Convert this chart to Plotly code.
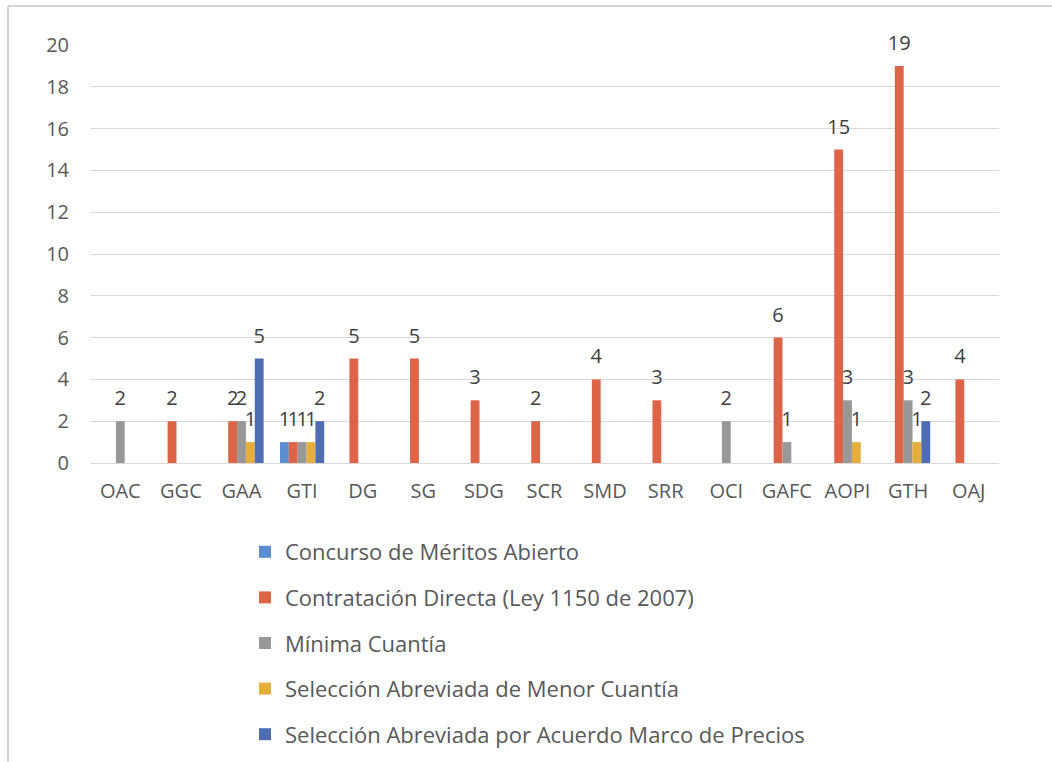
import plotly.graph_objects as go

# Dependencias (categorías del eje X)
categories = ["OAC", "GGC", "GAA", "GTI", "DG", "SG", "SDG", "SCR", "SMD",
              "SRR", "OCI", "GAFC", "AOPI", "GTH", "OAJ"]

# Número de procesos por modalidad de contratación
concurso_meritos = [0, 0, 0, 1, 0, 0, 0, 0, 0, 0, 0, 0, 0, 0, 0]
contratacion_directa = [0, 2, 2, 1, 5, 5, 3, 2, 4, 3, 0, 6, 15, 19, 4]
minima_cuantia = [2, 0, 2, 1, 0, 0, 0, 0, 0, 0, 2, 1, 3, 3, 0]
menor_cuantia = [0, 0, 1, 1, 0, 0, 0, 0, 0, 0, 0, 0, 1, 1, 0]
acuerdo_marco = [0, 0, 5, 2, 0, 0, 0, 0, 0, 0, 0, 0, 0, 2, 0]

y_ticks = [0, 2, 4, 6, 8, 10, 12, 14, 16, 18, 20]

series = [
    ("Concurso de Méritos Abierto", concurso_meritos, "#5B8ED0"),
    ("Contratación Directa (Ley 1150 de 2007)", contratacion_directa, "#DE6447"),
    ("Mínima Cuantía", minima_cuantia, "#989898"),
    ("Selección Abreviada de Menor Cuantía", menor_cuantia, "#E6AE3A"),
    ("Selección Abreviada por Acuerdo Marco de Precios", acuerdo_marco, "#4F6DB3"),
]

FONT = "Open Sans"
ML, MR, MT, MB = 90, 53, 45, 299
W, H = 1052, 762
PW, PH = W - ML - MR, H - MT - MB

fig = go.Figure()
for i, (name, vals, color) in enumerate(series):
    shown = [v if v else None for v in vals]
    fig.add_trace(go.Bar(
        name=name, x=categories, y=shown,
        marker=dict(color=color, line=dict(width=0)),
        offsetgroup=str(i), legendgroup=str(i),
    ))
# Etiquetas de valor sobre cada barra
for i, (name, vals, color) in enumerate(series):
    shown = [v if v else None for v in vals]
    fig.add_trace(go.Scatter(
        x=categories, y=shown, mode="markers+text",
        text=[str(v) if v else "" for v in vals],
        textposition="top center",
        textfont=dict(family=FONT, size=20, color="#404040"),
        marker=dict(size=16, opacity=0),
        offsetgroup=str(i), showlegend=False, hoverinfo="skip",
        cliponaxis=False,
    ))

# Marco del gráfico (bordes izquierdo y superior)
bx0 = (8 - ML) / PW
by1 = 1 + (MT - 6) / PH
fig.add_shape(type="line", xref="paper", yref="paper", x0=bx0, x1=bx0,
              y0=-(MB + 20) / PH, y1=by1, line=dict(color="#D4D4D4", width=2))
fig.add_shape(type="line", xref="paper", yref="paper", x0=bx0, x1=1 + MR / PW,
              y0=by1, y1=by1, line=dict(color="#D4D4D4", width=2))

fig.update_layout(
    width=W, height=H,
    margin=dict(l=ML, r=MR, t=MT, b=MB),
    paper_bgcolor="white", plot_bgcolor="white",
    barmode="group", bargap=0.27, bargroupgap=0,
    scattermode="group", scattergap=0.27,
    font=dict(family=FONT, size=20, color="#595959"),
    showlegend=True,
    legend=dict(
        xref="paper", yref="container",
        x=(245 - ML) / PW, xanchor="left",
        y=1 - 531 / H, yanchor="top",
        orientation="v", tracegroupgap=14,
        font=dict(family=FONT, size=22, color="#595959"),
        itemwidth=30,
    ),
    xaxis=dict(showgrid=False, showline=True, linecolor="#D9D9D9",
               ticks="", ticklabelstandoff=10,
               tickfont=dict(family=FONT, size=20, color="#595959")),
    yaxis=dict(range=[0, 20], tickvals=y_ticks, showgrid=True,
               gridcolor="#D9D9D9", gridwidth=1, zeroline=False,
               showline=False, ticks="", ticklabelstandoff=20,
               tickfont=dict(family=FONT, size=20, color="#595959")),
)

fig.write_html("out.html")
